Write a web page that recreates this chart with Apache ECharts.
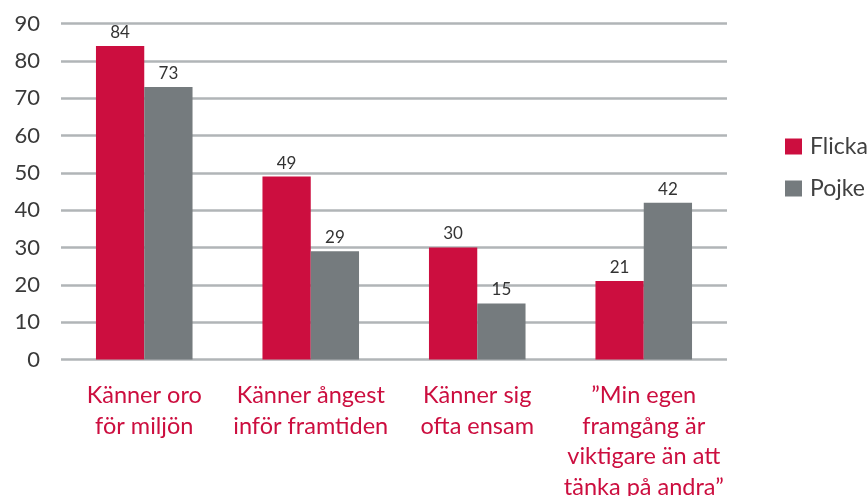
<!DOCTYPE html>
<html>
<head>
<meta charset="utf-8">
<script src="https://cdn.jsdelivr.net/npm/echarts@6/dist/echarts.min.js"></script>
<style>
html,body{margin:0;padding:0;background:#fff;}
#chart{width:868px;height:496px;}
</style>
</head>
<body>
<div id="chart"></div>
<script>
var categories = [
  'Känner oro\nför miljön',
  'Känner ångest\ninför framtiden',
  'Känner sig\nofta ensam',
  '”Min egen\nframgång är\nviktigare än att\ntänka på andra”'
];
var seriesNames = ['Flicka', 'Pojke'];
var flicka = [84, 49, 30, 21];
var pojke = [73, 29, 15, 42];
var yTicks = [0, 10, 20, 30, 40, 50, 60, 70, 80, 90];

var FONT = 'Lato';
var chart = echarts.init(document.getElementById('chart'));
chart.setOption({
  animation: false,
  textStyle: { fontFamily: FONT },
  grid: { left: 61, right: 141, top: 23.5, bottom: 136.5, containLabel: false, outerBoundsMode: 'none' },
  legend: {
    orient: 'vertical',
    left: 780,
    top: 130,
    itemWidth: 17,
    itemHeight: 16,
    itemGap: 19,
    icon: 'rect',
    textStyle: { fontFamily: FONT, fontSize: 23, color: '#404040', padding: [0, 0, 0, 3] },
    data: seriesNames
  },
  xAxis: {
    type: 'category',
    data: categories,
    axisLine: { show: false },
    axisTick: { show: false },
    axisLabel: {
      interval: 0,
      margin: 21,
      fontFamily: FONT,
      fontSize: 23.5,
      lineHeight: 30.5,
      color: '#cc0e3f'
    }
  },
  yAxis: {
    type: 'value',
    min: yTicks[0],
    max: yTicks[yTicks.length - 1],
    interval: 10,
    axisLine: { show: false },
    axisTick: { show: false },
    axisLabel: { margin: 21, fontFamily: FONT, fontSize: 22, color: '#3a3a3a' },
    splitLine: { lineStyle: { color: '#b1b5b7', width: 2.5 } }
  },
  series: [
    {
      name: seriesNames[0],
      type: 'bar',
      data: flicka,
      barGap: '0%',
      barCategoryGap: '42%',
      itemStyle: { color: '#cc0e3f' },
      label: { show: true, position: 'top', distance: 5, fontFamily: FONT, fontSize: 17, color: '#333' }
    },
    {
      name: seriesNames[1],
      type: 'bar',
      data: pojke,
      itemStyle: { color: '#757b7e' },
      label: { show: true, position: 'top', distance: 5, fontFamily: FONT, fontSize: 17, color: '#333' }
    }
  ]
});
</script>
</body>
</html>
